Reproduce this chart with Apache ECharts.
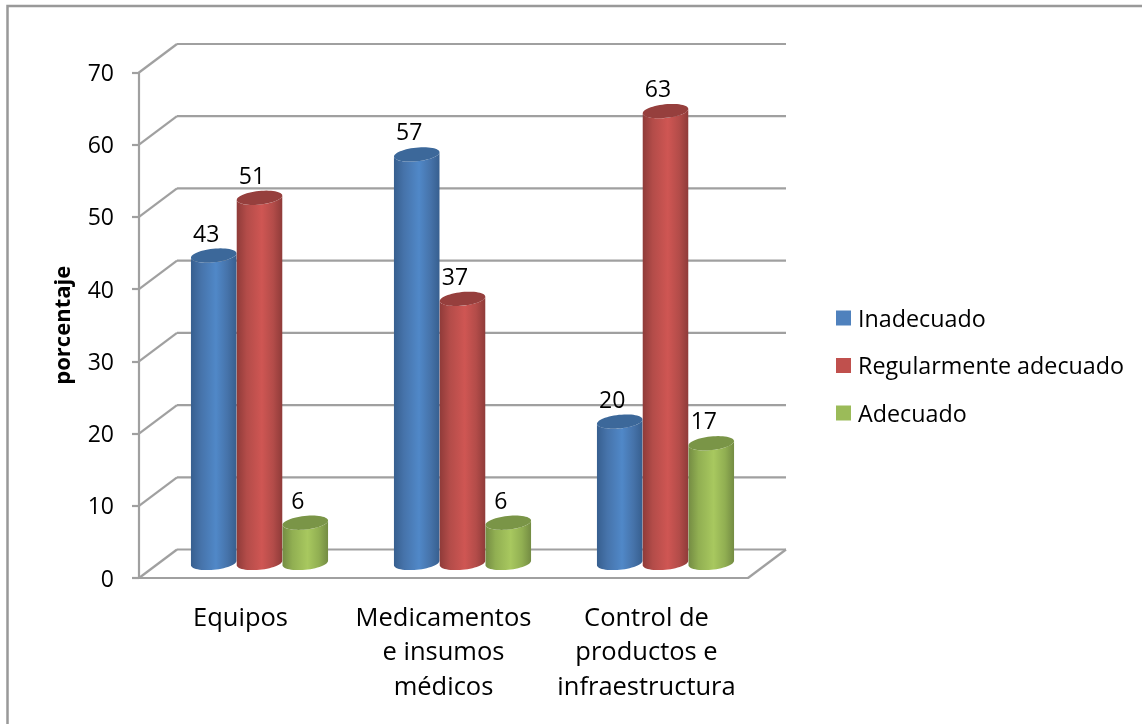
<!DOCTYPE html>
<html>
<head>
<meta charset="utf-8">
<style>html,body{margin:0;padding:0;background:#fff}#chart{width:1142px;height:724px}</style>
<script src="https://cdn.jsdelivr.net/npm/echarts@6/dist/echarts.min.js"></script>
</head>
<body>
<div id="chart"></div>
<script>
const categories = ['Equipos', 'Medicamentos\ne insumos\nmédicos', 'Control de\nproductos e\ninfraestructura'];
const inadecuado = [43, 57, 20];
const regular = [51, 37, 63];
const adecuado = [6, 6, 17];
const yTicks = [0, 10, 20, 30, 40, 50, 60, 70];

const FONT = '"Open Sans"';
const GRID_COLOR = '#a0a0a0';
const DEPTH_X = 38, DEPTH_Y = -28.5;
const CYL_SHARE = 0.2255;      // cylinder diameter as a share of the category band
const TILT = -6 * Math.PI / 180;
const MINOR = 6.8;

// Points of a tilted ellipse between two parameter angles
function arcPoints(cx, cy, a, b, from, to, steps) {
  const pts = [];
  for (let i = 0; i <= steps; i++) {
    const t = from + (to - from) * i / steps;
    pts.push([
      cx + a * Math.cos(t) * Math.cos(TILT) - b * Math.sin(t) * Math.sin(TILT),
      cy + a * Math.cos(t) * Math.sin(TILT) + b * Math.sin(t) * Math.cos(TILT)
    ]);
  }
  return pts;
}

function cylinderSeries(name, values, order, colors) {
  return {
    name: name,
    type: 'custom',
    coordinateSystem: 'cartesian2d',
    itemStyle: { color: colors.legend },
    z: 3 + order,
    clip: false,
    data: values.map((v, i) => [i, v]),
    encode: { x: 0, y: 1 },
    renderItem: function (params, api) {
      const cat = api.value(0), val = api.value(1);
      const band = api.size([1, 0])[0];
      const d = band * CYL_SHARE;
      const a = d / 2, b = MINOR;
      const top = api.coord([cat, val]);
      const base = api.coord([cat, 0]);
      const cx = top[0] + DEPTH_X / 2 + (order - 1) * d;
      const cyTop = top[1] + DEPTH_Y / 2 + 2.3;
      const cyBase = base[1] + DEPTH_Y / 2 - 0.8;
      // Silhouette angle where the tilted ellipse reaches its horizontal extreme
      const t0 = Math.atan2(-b * Math.sin(TILT), a * Math.cos(TILT));
      const body = arcPoints(cx, cyBase, a, b, t0, t0 + Math.PI, 28)
        .concat(arcPoints(cx, cyTop, a, b, t0 + Math.PI, t0, 28));
      const cap = arcPoints(cx, cyTop, a, b, 0, Math.PI * 2, 56);
      return {
        type: 'group',
        children: [
          {
            type: 'polygon',
            shape: { points: body },
            style: {
              fill: new echarts.graphic.LinearGradient(0, 0, 1, 0, [
                { offset: 0, color: colors.edge },
                { offset: 0.22, color: colors.mid },
                { offset: 0.55, color: colors.light },
                { offset: 0.8, color: colors.mid },
                { offset: 1, color: colors.edge }
              ])
            }
          },
          { type: 'polygon', shape: { points: cap }, style: { fill: colors.cap } },
          {
            type: 'text',
            style: {
              text: String(val),
              x: cx - 7.5,
              y: cyTop - 20.5,
              fill: '#000',
              font: '23px ' + FONT,
              align: 'center',
              verticalAlign: 'middle'
            }
          }
        ]
      };
    }
  };
}

// Back wall lines, slanted side-wall lines and the floor's right edge
const wallSeries = {
  type: 'custom',
  coordinateSystem: 'cartesian2d',
  silent: true,
  z: 1,
  clip: false,
  legendHoverLink: false,
  data: yTicks.map(t => [0, t]),
  encode: { y: 1 },
  renderItem: function (params, api) {
    const t = api.value(1);
    const band = api.size([1, 0])[0];
    const p = api.coord([0, t]);
    const leftX = p[0] - band / 2;
    const rightX = leftX + band * categories.length;
    const y = p[1];
    const lineStyle = { stroke: GRID_COLOR, lineWidth: 2.2, fill: null };
    const children = [
      { type: 'line', shape: { x1: leftX, y1: y, x2: leftX + DEPTH_X, y2: y + DEPTH_Y }, style: lineStyle },
      { type: 'line', shape: { x1: leftX + DEPTH_X, y1: y + DEPTH_Y, x2: rightX + DEPTH_X, y2: y + DEPTH_Y }, style: lineStyle }
    ];
    if (t === 0) {
      children.push({ type: 'line', shape: { x1: rightX, y1: y, x2: rightX + DEPTH_X, y2: y + DEPTH_Y }, style: lineStyle });
    }
    return { type: 'group', children: children };
  }
};

const chart = echarts.init(document.getElementById('chart'), null, { renderer: 'canvas' });
chart.setOption({
  animation: false,
  backgroundColor: '#fff',
  grid: { left: 139, top: 72.5, width: 609, height: 505.5 },
  xAxis: {
    type: 'category',
    data: categories,
    axisLine: { lineStyle: { color: GRID_COLOR, width: 2.2 } },
    axisTick: { show: false },
    axisLabel: { color: '#000', fontFamily: FONT, fontSize: 25.5, lineHeight: 34.6, margin: 23, interval: 0 }
  },
  yAxis: {
    type: 'value',
    min: 0,
    max: 70,
    interval: 10,
    name: 'porcentaje',
    nameLocation: 'middle',
    nameGap: 64,
    nameRotate: 90,
    nameTextStyle: { color: '#000', fontFamily: FONT, fontSize: 22, fontWeight: 'bold' },
    axisLine: { show: true, lineStyle: { color: GRID_COLOR, width: 2.2 } },
    axisTick: { show: true, length: 7, lineStyle: { color: GRID_COLOR, width: 2.2 } },
    axisLabel: {
      margin: 25,
      formatter: '{v|{value}}',
      rich: { v: { color: '#000', fontFamily: FONT, fontSize: 23, padding: [4, 0, 0, 0] } }
    },
    splitLine: { show: false }
  },
  legend: {
    orient: 'vertical',
    left: 836,
    top: 304.5,
    padding: 0,
    icon: 'rect',
    itemWidth: 15,
    itemHeight: 15,
    itemGap: 20.5,
    data: ['Inadecuado', 'Regularmente adecuado', 'Adecuado'],
    formatter: '{t|{name}}',
    textStyle: {
      rich: { t: { color: '#000', fontFamily: FONT, fontSize: 23.3, lineHeight: 24, padding: [4, 0, 0, 2] } }
    }
  },
  graphic: [
    { type: 'polyline', silent: true, shape: { points: [[7.5, 724], [7.5, 6], [1142, 6]] }, style: { stroke: '#999', lineWidth: 2.5, fill: null } }
  ],
  series: [
    wallSeries,
    cylinderSeries('Inadecuado', inadecuado, 0, { legend: '#4f81bd', edge: '#375f8f', mid: '#4673aa', light: '#5088c8', cap: '#3c689a' }),
    cylinderSeries('Regularmente adecuado', regular, 1, { legend: '#c0504d', edge: '#8f3b39', mid: '#b34c49', light: '#cf5653', cap: '#963f3d' }),
    cylinderSeries('Adecuado', adecuado, 2, { legend: '#9bbb59', edge: '#748c43', mid: '#91af52', light: '#a8c85f', cap: '#7a9547' })
  ]
});
</script>
</body>
</html>
